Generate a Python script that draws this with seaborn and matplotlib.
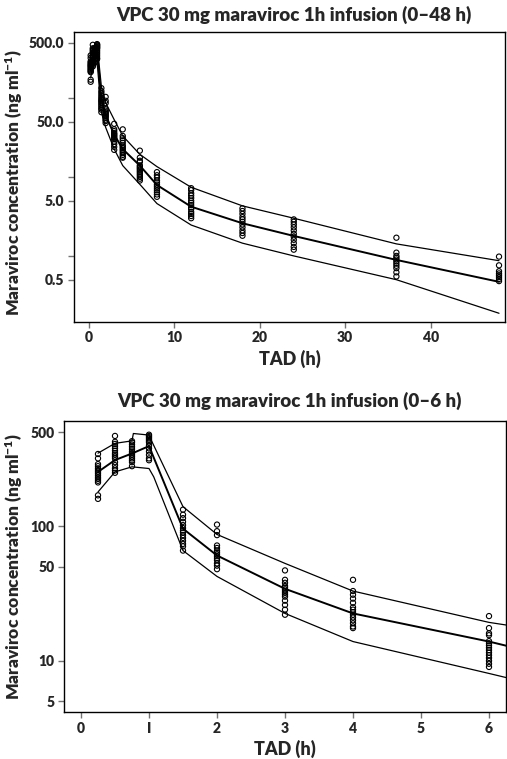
import numpy as np
import pandas as pd
import matplotlib
matplotlib.use("Agg")
import matplotlib.pyplot as plt
import seaborn as sns

# ---------------- data ----------------
obs_times = [0.25, 0.5, 0.75, 1.0, 1.5, 2, 3, 4, 6, 8, 12, 18, 24, 36, 48]
obs_values = [
    [345, 320, 290, 280, 270, 262, 255, 248, 240, 232, 225, 218, 212, 170, 160],
    [470, 425, 410, 395, 380, 365, 350, 340, 330, 320, 300, 285, 270, 260, 250],
    [430, 420, 405, 390, 375, 360, 350, 340, 330, 320, 310, 300, 280],
    [480, 470, 460, 450, 440, 430, 420, 400, 380, 360, 340, 320, 310],
    [133, 122, 115, 108, 102, 97, 93, 90, 86, 82, 78, 74, 71, 66],
    [103, 92, 86, 72, 69, 66, 64, 62, 60, 58, 56, 53, 51, 48],
    [47, 40, 38, 36, 35, 34, 33, 32, 31, 30, 28, 26, 24, 22],
    [40, 33, 31, 29, 27, 25, 24, 23, 22, 21, 20, 19, 18, 17.5],
    [21.5, 17.5, 16, 15.5, 14, 13.5, 13, 12.5, 12, 11.5, 11, 10.5, 10, 9.5, 9],
    [11.5, 10.5, 9.8, 9.0, 8.5, 8.0, 7.6, 7.2, 6.8, 6.4, 6.0, 5.6],
    [7.2, 6.8, 6.2, 5.8, 5.4, 5.0, 4.7, 4.4, 4.1, 3.9, 3.6, 3.4, 3.2, 3.0],
    [4.0, 3.7, 3.4, 3.1, 2.9, 2.7, 2.5, 2.3, 2.1, 1.95, 1.8],
    [2.9, 2.7, 2.5, 2.3, 2.1, 1.9, 1.75, 1.6, 1.45, 1.3, 1.2],
    [1.7, 1.1, 1.0, 0.95, 0.9, 0.85, 0.8, 0.75, 0.7, 0.62, 0.55],
    [0.98, 0.76, 0.64, 0.6, 0.57, 0.54, 0.51, 0.48],
]

# VPC percentile lines (95th, median, 5th)
p95_time = [0.25, 0.5, 0.75, 0.77, 1.0, 1.02, 1.5, 2, 3, 4, 6, 8, 12, 18, 24, 36, 48]
p95_conc = [350, 414, 432, 490, 477, 451, 140, 87, 53, 33, 19.3, 13.5, 7.4, 4.3, 3.0, 1.42, 0.87]
p50_time = [0.25, 0.5, 0.75, 1.0, 1.5, 2, 3, 4, 6, 8, 12, 18, 24, 36, 48]
p50_conc = [254, 311, 348, 395, 96, 60.7, 34.3, 22.5, 13.9, 7.9, 4.2, 2.59, 1.79, 0.89, 0.47]
p05_time = [0.25, 0.5, 0.75, 1.0, 1.07, 1.5, 2, 3, 4, 6, 8, 12, 18, 24, 36, 48]
p05_conc = [180, 254, 277, 269, 233, 66, 42.4, 22.5, 13.9, 8.05, 4.6, 2.46, 1.45, 1.0, 0.50, 0.188]

top_title = "VPC 30 mg maraviroc 1h infusion (0\u201348 h)"
bottom_title = "VPC 30 mg maraviroc 1h infusion (0\u20136 h)"
ylabel = "Maraviroc concentration (ng ml$^{\\mathbf{-1}}$)"
xlabel = "TAD (h)"
top_yticks = [500, 100, 50, 10, 5, 1, 0.5]
top_yticklabels = ["500.0", "", "50.0", "", "5.0", "", "0.5"]
bottom_yticks = [500, 100, 50, 10, 5]
bottom_yticklabels = ["500", "100", "50", "10", "5"]
top_xticks = [0, 10, 20, 30, 40]
bottom_xticks = [0, 1, 2, 3, 4, 5, 6]
bottom_xticklabels = ["0", "I", "2", "3", "4", "5", "6"]

# ---------------- build frames ----------------
obs_df = pd.DataFrame(
    [(t, v) for t, vals in zip(obs_times, obs_values) for v in vals],
    columns=["time", "conc"],
)
lines = [
    (pd.DataFrame({"time": p95_time, "conc": p95_conc}), 0.9),
    (pd.DataFrame({"time": p50_time, "conc": p50_conc}), 1.4),
    (pd.DataFrame({"time": p05_time, "conc": p05_conc}), 0.9),
]

sns.set_style("ticks")
plt.rcParams["font.family"] = ["Lato", "DejaVu Sans"]
plt.rcParams["font.weight"] = "heavy"
plt.rcParams["mathtext.fontset"] = "custom"
plt.rcParams["mathtext.bf"] = "Lato:heavy"
plt.rcParams["mathtext.rm"] = "Lato:heavy"
plt.rcParams["mathtext.default"] = "bf"

W = "heavy"
fig = plt.figure(figsize=(5.07, 7.59), dpi=100)
ax1 = fig.add_axes([74 / 507, 1 - 321.7 / 759, 431 / 507, 290 / 759])
ax2 = fig.add_axes([64 / 507, 1 - 712 / 759, 442 / 507, 291 / 759])


def draw(ax):
    for df, lw in lines:
        sns.lineplot(data=df, x="time", y="conc", ax=ax, color="black",
                     linewidth=lw, estimator=None, sort=False)
    sns.scatterplot(data=obs_df, x="time", y="conc", ax=ax, marker="o",
                    s=14, facecolor="none", edgecolor="black", linewidth=0.8,
                    zorder=3)
    ax.set_yscale("log")
    for sp in ax.spines.values():
        sp.set_visible(True)
        sp.set_linewidth(1.0)
        sp.set_color("black")
    ax.tick_params(axis="both", which="major", direction="out", length=4,
                   width=1, color="0.45", labelsize=10, pad=3)
    ax.minorticks_off()
    ax.set_ylabel(ylabel, fontsize=12.5, fontweight=W)
    ax.set_xlabel(xlabel, fontsize=13, fontweight=W, labelpad=4)


draw(ax1)
ax1.set_xlim(-1.7, 48.7)
ax1.set_ylim(0.147, 689)
ax1.set_yticks(top_yticks)
ax1.set_yticklabels(top_yticklabels, fontweight=W)
ax1.set_xticks(top_xticks)
ax1.set_xticklabels([str(t) for t in top_xticks], fontweight=W)
ax1.set_title(top_title, fontsize=13.5, fontweight=W, pad=8, x=0.51)
ax1.yaxis.set_label_coords(-0.114, 0.48)

draw(ax2)
ax2.set_xlim(-0.25, 6.25)
ax2.set_ylim(4.16, 607)
ax2.set_yticks(bottom_yticks)
ax2.set_yticklabels(bottom_yticklabels, fontweight=W)
ax2.set_xticks(bottom_xticks)
ax2.set_xticklabels(bottom_xticklabels, fontweight=W)
ax2.set_title(bottom_title, fontsize=13.5, fontweight=W, pad=10, x=0.51)
ax2.yaxis.set_label_coords(-0.089, 0.50)

fig.savefig("out.png", dpi=100)
